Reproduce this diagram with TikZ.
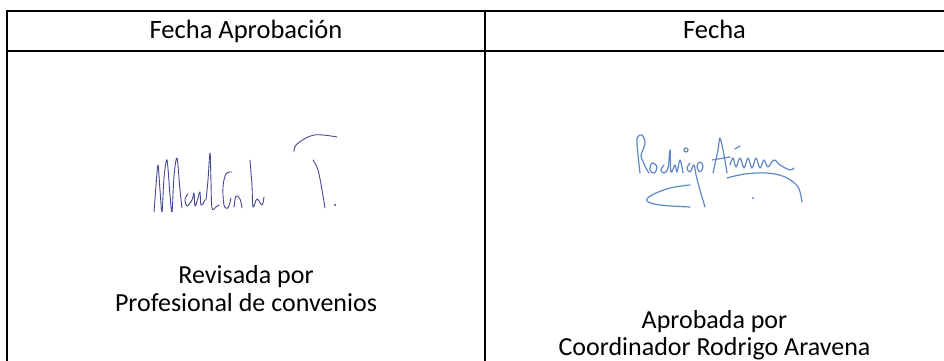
\documentclass[tikz,border=0pt]{standalone}
\usepackage{fontspec}
\setmainfont{Carlito}
\definecolor{inkA}{RGB}{70,70,145}
\definecolor{inkB}{RGB}{95,135,200}

\begin{document}
\begin{tikzpicture}[x=1pt,y=-1pt]
	\tikzset{rule/.style={line width=2pt, black},
		cell/.style={font=\fontsize{26}{30}\selectfont, anchor=base, inner sep=0pt},
		sigA/.style={line width=0.9pt, inkA, line cap=round, line join=round},
		sigB/.style={line width=1.2pt, inkB, line cap=round, line join=round}}
	\useasboundingbox (0,0) rectangle (944,361);
	
	%% TABLE LINES
	\draw[rule] (944,11) -- (7,11) -- (7,361);
	\draw[rule] (7,51) -- (944,51);
	\draw[rule] (485,11) -- (485,361);
	
	%% HEADER
	\node[cell, font=\fontsize{26.5}{30}\selectfont] (HeadL) at (246,39) {Fecha Aprobación};
	\node[cell, font=\fontsize{26.5}{30}\selectfont] (HeadR) at (714.5,39) {Fecha};
	
	%% BODY
	\node[cell] (RevA) at (246,283) {Revisada por};
	\node[cell] (RevB) at (246,311) {Profesional de convenios};
	\node[cell] (AprA) at (714.5,328) {Aprobada por};
	\node[cell] (AprB) at (714.5,355) {Coordinador Rodrigo Aravena};
	
	%% SIGNATURE LEFT
	\draw[sigA] plot[smooth, tension=0.5] coordinates {(154,212) (156,186) (158,165) (160,190) (162,212) (164,178) (167,160) (170,195) (172,212) (174,176) (177,158) (180,190) (182,208)};
	\draw[sigA] plot[smooth, tension=0.6] coordinates {(188,194) (185,199) (187,206) (192,200) (194,193) (195,206) (198,198) (200,192) (201,205) (205,200)};
	\draw[sigA] plot[smooth, tension=0.6] coordinates {(206,200) (208,180) (210,153) (211,182) (212,208) (216,207) (219,205)};
	\draw[sigA] plot[smooth, tension=0.6] coordinates {(232,172) (226,174) (223,187) (224,205) (228,208) (231,198)};
	\draw[sigA] plot[smooth, tension=0.6] coordinates {(234,207) (236,196) (240,199) (242,208)};
	\draw[sigA] plot[smooth, tension=0.6] coordinates {(250,160) (252,186) (253,207) (257,199) (262,205) (264,197)};
	\draw[sigA] plot[smooth, tension=0.6] coordinates {(294,152) (297,144) (314,135) (337,137)};
	\draw[sigA] plot[smooth, tension=0.6] coordinates {(313,160) (318,170) (322,190) (325,208)};
	\fill[inkA] (335,205) circle (1.1);
	
	%% SIGNATURE RIGHT
	\draw[sigB] plot[smooth, tension=0.5] coordinates {(640,173) (638,155) (637,138) (642,135) (645,142) (643,150) (641,156) (646,168) (649,173)};
	\draw[sigB] plot[smooth cycle, tension=0.7] coordinates {(652,163) (650,170) (654,173) (657,167)};
	\draw[sigB] plot[smooth, tension=0.6] coordinates {(664,165) (661,170) (664,173) (668,168) (670,150) (671,172) (675,165) (677,172) (680,160) (683,173)};
	\draw[sigB] (686,150) circle (2);
	\draw[sigB] plot[smooth, tension=0.6] coordinates {(690,163) (687,168) (690,172) (694,165) (696,175) (700,190) (705,207)};
	\draw[sigB] plot[smooth cycle, tension=0.7] coordinates {(697,166) (700,172) (703,166) (700,162)};
	\draw[sigB] plot[smooth, tension=0.6] coordinates {(690,185) (670,188) (652,195) (647,201) (660,205) (690,207)};
	\draw[sigB] plot[smooth, tension=0.5] coordinates {(713,173) (718,150) (720,138) (724,155) (727,173)};
	\draw[sigB] (712,160) -- (730,157);
	\draw[sigB] plot[smooth, tension=0.6] coordinates {(730,165) (733,158) (736,167) (740,158) (744,168) (748,158) (752,168) (756,158) (760,168) (764,160) (768,167) (774,160) (780,165) (790,170) (794,168)};
	\draw[sigB] (735,149) -- (740,146);
	\draw[sigB] plot[smooth, tension=0.6] coordinates {(727,178) (745,174) (767,173) (785,177) (798,187) (802,202)};
	\fill[inkB] (753,198) circle (1.2);
	
\end{tikzpicture}
\end{document}
